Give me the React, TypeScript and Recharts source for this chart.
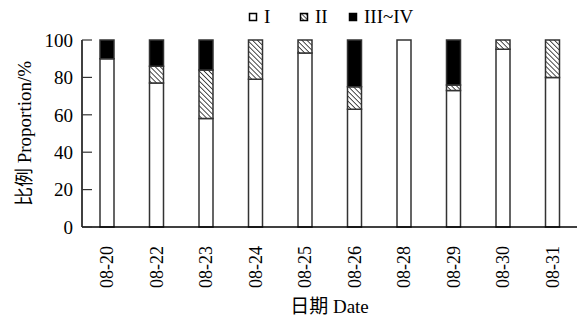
import React from 'react';
import { BarChart, Bar, XAxis, YAxis } from 'recharts';

const dates = ['08-20', '08-22', '08-23', '08-24', '08-25', '08-26', '08-28', '08-29', '08-30', '08-31'];
const stageI = [90, 77, 58, 79, 93, 63, 100, 73, 95, 80];
const stageII = [0, 9, 26, 21, 7, 12, 0, 3, 5, 20];
const stageIII_IV = [10, 14, 16, 0, 0, 25, 0, 24, 0, 0];
const yTicks = [0, 20, 40, 60, 80, 100];
const seriesNames = ['I', 'II', 'III~IV'];

const data = dates.map((d, i) => ({ date: d, s1: stageI[i], s2: stageII[i], s3: stageIII_IV[i] }));

const FONT = '"Liberation Serif", "Times New Roman", "Noto Sans CJK SC", serif';
const STROKE = '#333';

const XTick = (props: any) => {
  const { x, y, payload } = props;
  return (
    <text
      x={x}
      y={y}
      transform={`rotate(-90, ${x}, ${y})`}
      textAnchor="end"
      dy="0.35em"
      fontFamily={FONT}
      fontSize={18}
      fill="#000"
    >
      {payload.value}
    </text>
  );
};

const YLabel = (props: any) => {
  const vb = props.viewBox || { x: 0, y: 40, width: 82, height: 187 };
  const cx = 24;
  const cy = vb.y + vb.height / 2;
  return (
    <text
      x={cx}
      y={cy}
      transform={`rotate(-90, ${cx}, ${cy})`}
      textAnchor="middle"
      dominantBaseline="central"
      fontFamily={FONT}
      fontSize={19}
      fill="#000"
    >
      比例 Proportion/%
    </text>
  );
};

const XLabel = (props: any) => {
  const vb = props.viewBox || { x: 82, y: 227, width: 495, height: 95 };
  const cx = vb.x + vb.width / 2;
  return (
    <text x={cx} y={313} textAnchor="middle" fontFamily={FONT} fontSize={19} fill="#000">
      日期 Date
    </text>
  );
};

const Legend2 = () => (
  <svg width={581} height={34} style={{ position: 'absolute', left: 0, top: 0 }}>
    <defs>
      <pattern id="hatchL" patternUnits="userSpaceOnUse" width="3" height="3" patternTransform="rotate(45)">
        <rect width="3" height="3" fill="#fff" />
        <line x1="0" y1="0" x2="3" y2="0" stroke="#000" strokeWidth="1.4" />
      </pattern>
    </defs>
    <rect x={249.5} y={13.5} width={7} height={7} fill="#fff" stroke="#000" strokeWidth={1.5} />
    <text x={264} y={23} fontFamily={FONT} fontSize={19} fill="#000">{seriesNames[0]}</text>
    <rect x={300.5} y={13.5} width={7} height={7} fill="url(#hatchL)" stroke="#000" strokeWidth={1.5} />
    <text x={315} y={23} fontFamily={FONT} fontSize={19} fill="#000">{seriesNames[1]}</text>
    <rect x={349.5} y={13.5} width={7} height={7} fill="#000" stroke="#000" strokeWidth={1.5} />
    <text x={364} y={23} fontFamily={FONT} fontSize={19} fill="#000">{seriesNames[2]}</text>
  </svg>
);

export default function App() {
  return (
    <div style={{ position: 'absolute', left: 0, top: 0, width: 581, height: 322, background: '#fff' }}>
      <BarChart
        width={581}
        height={322}
        data={data}
        margin={{ top: 40, right: 4, bottom: 0, left: 0 }}
        barCategoryGap={0}
      >
        <defs>
          <pattern id="hatch" patternUnits="userSpaceOnUse" width="3.5" height="3.5" patternTransform="rotate(45)">
            <rect width="3.5" height="3.5" fill="#fff" />
            <line x1="0" y1="0" x2="3.5" y2="0" stroke="#000" strokeWidth="1.4" />
          </pattern>
        </defs>
        <XAxis
          dataKey="date"
          interval={0}
          tickLine={false}
          axisLine={{ stroke: '#000', strokeWidth: 1.5 }}
          tick={<XTick />}
          tickMargin={13}
          height={95}
          label={<XLabel />}
        />
        <YAxis
          domain={[0, 100]}
          ticks={yTicks}
          width={82}
          tickSize={-10}
          tickMargin={19}
          axisLine={{ stroke: '#000', strokeWidth: 1.5 }}
          tickLine={{ stroke: '#333', strokeWidth: 1.2 }}
          tick={{ fontFamily: FONT, fontSize: 19, fill: '#000' }}
          label={<YLabel />}
        />
        <Bar dataKey="s1" stackId="a" barSize={14} fill="#fff" stroke={STROKE} strokeWidth={1.5} isAnimationActive={false} />
        <Bar dataKey="s2" stackId="a" barSize={14} fill="url(#hatch)" stroke={STROKE} strokeWidth={1.5} isAnimationActive={false} />
        <Bar dataKey="s3" stackId="a" barSize={14} fill="#000" stroke={STROKE} strokeWidth={1.5} isAnimationActive={false} />
      </BarChart>
      <Legend2 />
    </div>
  );
}
